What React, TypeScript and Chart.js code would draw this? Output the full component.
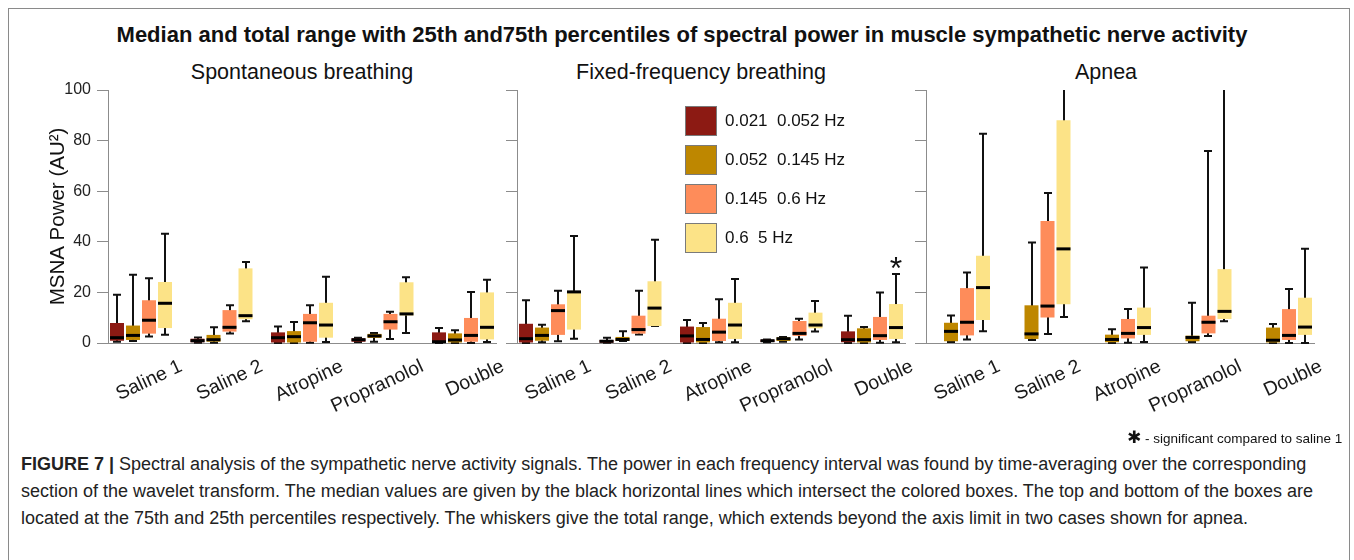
import React, { useEffect, useRef } from "react";
import { Chart, registerables } from "chart.js";

Chart.register(...registerables);

const categories = ["Saline 1", "Saline 2", "Atropine", "Propranolol", "Double"];
const panelTitles = ["Spontaneous breathing", "Fixed-frequency breathing", "Apnea"];
const bandLabels = ["0.021  0.052 Hz", "0.052  0.145 Hz", "0.145  0.6 Hz", "0.6  5 Hz"];
const bandColors = ["#8c1a13", "#be8700", "#fe8c5a", "#fce387"];
const yTickValues = [0, 20, 40, 60, 80, 100];

// each entry: [min, 25th percentile, median, 75th percentile, max] per category
const spontaneousBand1 = [[0.5, 0.9, 2.1, 7.9, 19.1], [0.1, 0.3, 0.9, 1.7, 2.2], [0, 0, 2.1, 4.2, 6.5], [0.4, 0.5, 1.3, 1.8, 2.1], [0, 0, 0.5, 4.2, 5.9]];
const spontaneousBand2 = [[0.8, 1.2, 3.0, 6.9, 27.0], [0.1, 0.5, 1.3, 3.2, 6.2], [0, 0, 2.5, 4.7, 8.3], [0.5, 2.0, 2.8, 3.6, 4.0], [0, 0, 1.2, 3.8, 5.0]];
const spontaneousBand3 = [[2.6, 3.7, 9.0, 16.9, 25.6], [3.8, 4.5, 6.2, 13.0, 14.9], [0.1, 0.5, 8.0, 11.5, 14.9], [1.6, 5.3, 8.4, 11.5, 12.4], [0, 0.5, 3.0, 9.9, 20.2]];
const spontaneousBand4 = [[3.3, 5.9, 15.7, 24.1, 43.2], [8.6, 9.4, 10.8, 29.5, 32.0], [0.4, 2.1, 7.1, 15.9, 26.2], [4.0, 10.9, 11.5, 24.0, 26.0], [0.4, 1.4, 6.2, 20.0, 25.0]];

const fixedBand1 = [[0, 0, 1.7, 7.6, 16.9], [0.1, 0.1, 0.7, 1.2, 2.1], [0, 0, 2.8, 6.5, 9.1], [0.3, 0.4, 0.9, 1.3, 1.4], [0, 0.3, 1.3, 4.6, 10.8]];
const fixedBand2 = [[0.3, 0.9, 3.0, 6.1, 7.2], [0.8, 0.8, 1.4, 2.4, 4.6], [0, 0, 1.4, 6.3, 7.9], [0.5, 0.8, 1.7, 2.2, 2.4], [0, 0, 1.3, 5.8, 6.3]];
const fixedBand3 = [[0.7, 3.2, 12.8, 15.3, 20.7], [3.4, 3.7, 5.3, 10.8, 20.7], [0.3, 0.8, 4.3, 9.6, 17.3], [1.4, 2.8, 3.8, 8.7, 9.6], [0.1, 1.2, 2.9, 10.3, 20.0]];
const fixedBand4 = [[1.7, 5.3, 20.2, 20.6, 42.3], [6.7, 6.7, 13.8, 24.4, 40.8], [0.3, 1.6, 7.1, 15.9, 25.3], [4.5, 5.8, 7.1, 12.0, 16.6], [0.3, 1.6, 6.1, 15.4, 27.3]];

const apneaBand1 = [null, null, null, null, null];
const apneaBand2 = [[0.4, 0.7, 4.6, 8.0, 10.9], [1.2, 1.6, 3.6, 14.9, 39.7], [0, 0.3, 1.4, 3.3, 5.4], [0.4, 0.7, 2.2, 2.9, 15.9], [0, 0, 1.1, 6.1, 7.5]];
const apneaBand3 = [[1.4, 3.0, 8.2, 21.7, 27.9], [3.6, 10.1, 14.6, 48.2, 59.3], [0.1, 1.8, 3.8, 9.5, 13.4], [2.8, 3.8, 8.2, 10.8, 75.9], [0, 1.2, 3.0, 13.4, 21.3]];
const apneaBand4 = [[4.6, 9.1, 21.9, 34.5, 82.7], [10.3, 15.3, 37.2, 88.0, 120], [0.4, 3.2, 6.1, 14.0, 29.8], [8.6, 9.5, 12.5, 29.2, 140], [0, 3.2, 6.3, 17.9, 37.3]];

// significant compared to saline 1: panel index, category index, band index
const significantMarks = [{ panel: 1, category: 4, band: 3 }];

const panelData = [
  [spontaneousBand1, spontaneousBand2, spontaneousBand3, spontaneousBand4],
  [fixedBand1, fixedBand2, fixedBand3, fixedBand4],
  [apneaBand1, apneaBand2, apneaBand3, apneaBand4],
];

const FONT = '"Liberation Sans", Arial, Helvetica, sans-serif';
const CHART_W = 388;
const Y_AXIS_W = 68;
const PAD_RIGHT = 24;
const PAD_TOP = 20;
const CANVAS_TOP = 70;
const CANVAS_H = 360;
const AREA_H = 253;
const X_AXIS_H = CANVAS_H - PAD_TOP - AREA_H;
const chartLefts = [108, 517, 926];
const panelTitleCenters = [302, 701, 1106];

const boxPlugin = {
  id: "boxWhisker",
  beforeDatasetsDraw(chart: any) {
    const { ctx, chartArea: a } = chart;
    const y = chart.scales.y;
    ctx.save();
    ctx.beginPath();
    ctx.rect(a.left, a.top, a.right - a.left, a.bottom - a.top + 3);
    ctx.clip();
    ctx.strokeStyle = "#111";
    ctx.lineWidth = 2;
    chart.data.datasets.forEach((ds: any, di: number) => {
      const meta = chart.getDatasetMeta(di);
      ds.stats.forEach((s: number[] | null, i: number) => {
        if (!s) return;
        const el = meta.data[i];
        const x = Math.round(el.x);
        const yMin = y.getPixelForValue(s[0]);
        const yMax = y.getPixelForValue(s[4]);
        ctx.beginPath();
        ctx.moveTo(x, yMin);
        ctx.lineTo(x, yMax);
        ctx.moveTo(x - 4, yMax);
        ctx.lineTo(x + 4, yMax);
        ctx.moveTo(x - 4, yMin);
        ctx.lineTo(x + 4, yMin);
        ctx.stroke();
      });
    });
    ctx.restore();
  },
  afterDatasetsDraw(chart: any, _args: any, opts: any) {
    const { ctx } = chart;
    const y = chart.scales.y;
    ctx.save();
    ctx.fillStyle = "#000";
    chart.data.datasets.forEach((ds: any, di: number) => {
      const meta = chart.getDatasetMeta(di);
      ds.stats.forEach((s: number[] | null, i: number) => {
        if (!s) return;
        const el = meta.data[i];
        const ym = y.getPixelForValue(s[2]);
        ctx.fillRect(el.x - el.width / 2, ym - 1.5, el.width, 3);
      });
    });
    (opts.marks || []).forEach((m: any) => {
      const ds = chart.data.datasets[m.band];
      const s = ds.stats[m.category];
      const el = chart.getDatasetMeta(m.band).data[m.category];
      ctx.font = `32px ${FONT}`;
      ctx.textAlign = "center";
      ctx.textBaseline = "alphabetic";
      ctx.fillStyle = "#111";
      ctx.fillText("*", el.x, y.getPixelForValue(s[4]) + 5);
    });
    ctx.restore();
  },
};

function Panel({ index }: { index: number }) {
  const ref = useRef<HTMLCanvasElement | null>(null);
  useEffect(() => {
    const bands = panelData[index];
    const chart = new Chart(ref.current as HTMLCanvasElement, {
      type: "bar",
      data: {
        datasets: bands.map((band: any, b: number) => ({
          label: bandLabels[b],
          data: band.map((s: number[] | null, i: number) => ({ x: i + 1, y: s ? [s[1], s[3]] : null })),
          stats: band,
          backgroundColor: bandColors[b],
          borderWidth: 0,
          categoryPercentage: 0.795,
          barPercentage: 0.875,
        })) as any,
      },
      options: {
        animation: false,
        responsive: false,
        maintainAspectRatio: false,
        layout: { padding: { top: PAD_TOP, right: PAD_RIGHT, left: 0, bottom: 0 } },
        plugins: {
          legend: { display: false },
          tooltip: { enabled: false },
          boxWhisker: { marks: significantMarks.filter((m) => m.panel === index) },
        } as any,
        scales: {
          x: {
            type: "linear",
            min: 0.59,
            max: 5.41,
            offset: false,
            grid: { display: false },
            border: { display: true, color: "#8c8c8c", width: 1 },
            afterBuildTicks: (s: any) => {
              s.ticks = categories.map((_, i) => ({ value: i + 1 }));
            },
            afterFit: (s: any) => {
              s.height = X_AXIS_H;
            },
            ticks: {
              autoSkip: false,
              minRotation: 25,
              maxRotation: 25,
              labelOffset: 40,
              padding: 4,
              color: "#1a1a1a",
              font: { family: FONT, size: 19.5 },
              callback: (v: any) => categories[Math.round(v) - 1] ?? "",
            },
          },
          y: {
            min: 0,
            max: 100,
            afterBuildTicks: (s: any) => {
              s.ticks = yTickValues.map((v) => ({ value: v }));
            },
            afterFit: (s: any) => {
              s.width = Y_AXIS_W;
            },
            grid: { drawOnChartArea: false, drawTicks: true, tickLength: 11, color: "#8c8c8c" },
            border: { display: true, color: "#8c8c8c", width: 1 },
            ticks: { display: index === 0, padding: 6, color: "#222", font: { family: FONT, size: 16 } },
            title: {
              display: index === 0,
              text: "MSNA Power (AU²)",
              color: "#111",
              font: { family: FONT, size: 20.5 },
              padding: { top: 6, bottom: 0 },
            },
          },
        } as any,
      },
      plugins: [boxPlugin as any],
    });
    return () => chart.destroy();
  }, [index]);
  const w = Y_AXIS_W + CHART_W + PAD_RIGHT;
  return (
    <canvas
      ref={ref}
      width={w}
      height={CANVAS_H}
      style={{ position: "absolute", left: chartLefts[index] - Y_AXIS_W, top: CANVAS_TOP, width: w, height: CANVAS_H }}
    />
  );
}

const captionLines = [
  "Spectral analysis of the sympathetic nerve activity signals. The power in each frequency interval was found by time-averaging over the corresponding",
  "section of the wavelet transform. The median values are given by the black horizontal lines which intersect the colored boxes. The top and bottom of the boxes are",
  "located at the 75th and 25th percentiles respectively. The whiskers give the total range, which extends beyond the axis limit in two cases shown for apnea.",
];

export default function App() {
  return (
    <div
      style={{
        position: "absolute",
        left: 0,
        top: 0,
        width: 1354,
        height: 560,
        overflow: "hidden",
        background: "#fff",
        fontFamily: FONT,
        color: "#111",
      }}
    >
      <div
        style={{
          position: "absolute",
          left: 8,
          top: 8,
          width: 1342,
          height: 620,
          border: "1px solid #8a8a8a",
          boxSizing: "border-box",
        }}
      />
      <div
        style={{
          position: "absolute",
          left: 0,
          width: 1364,
          top: 23,
          textAlign: "center",
          fontWeight: "bold",
          fontSize: 22,
          lineHeight: "24px",
          whiteSpace: "nowrap",
        }}
      >
        Median and total range with 25th and75th percentiles of spectral power in muscle sympathetic nerve activity
      </div>
      {panelTitles.map((t, i) => (
        <div
          key={t}
          style={{
            position: "absolute",
            left: panelTitleCenters[i] - 200,
            width: 400,
            top: 60,
            textAlign: "center",
            fontSize: 21.5,
            lineHeight: "24px",
            whiteSpace: "nowrap",
          }}
        >
          {t}
        </div>
      ))}
      {[0, 1, 2].map((i) => (
        <Panel key={i} index={i} />
      ))}
      {bandLabels.map((lab, b) => (
        <div key={lab}>
          <div
            style={{
              position: "absolute",
              left: 685,
              top: 106 + b * 39,
              width: 32,
              height: 30,
              boxSizing: "border-box",
              border: "1px solid #7a7a7a",
              background: bandColors[b],
            }}
          />
          <div
            style={{
              position: "absolute",
              left: 725,
              top: 111 + b * 39,
              fontSize: 17,
              lineHeight: "20px",
              whiteSpace: "pre",
            }}
          >
            {lab}
          </div>
        </div>
      ))}
      <div
        style={{
          position: "absolute",
          left: 1127,
          top: 428,
          fontSize: 13.5,
          lineHeight: "18px",
          whiteSpace: "pre",
        }}
      >
        <span style={{ fontFamily: '"DejaVu Sans", sans-serif', fontSize: 17, fontWeight: "bold" }}>✱</span>
        {" - significant compared to saline 1"}
      </div>
      <div style={{ position: "absolute", left: 21, top: 451, fontSize: 18, lineHeight: "27px", color: "#222" }}>
        {captionLines.map((line, i) => (
          <div key={i} style={{ whiteSpace: "nowrap" }}>
            {i === 0 ? (
              <>
                <b>FIGURE 7 | </b>
                {line}
              </>
            ) : (
              line
            )}
          </div>
        ))}
      </div>
    </div>
  );
}
